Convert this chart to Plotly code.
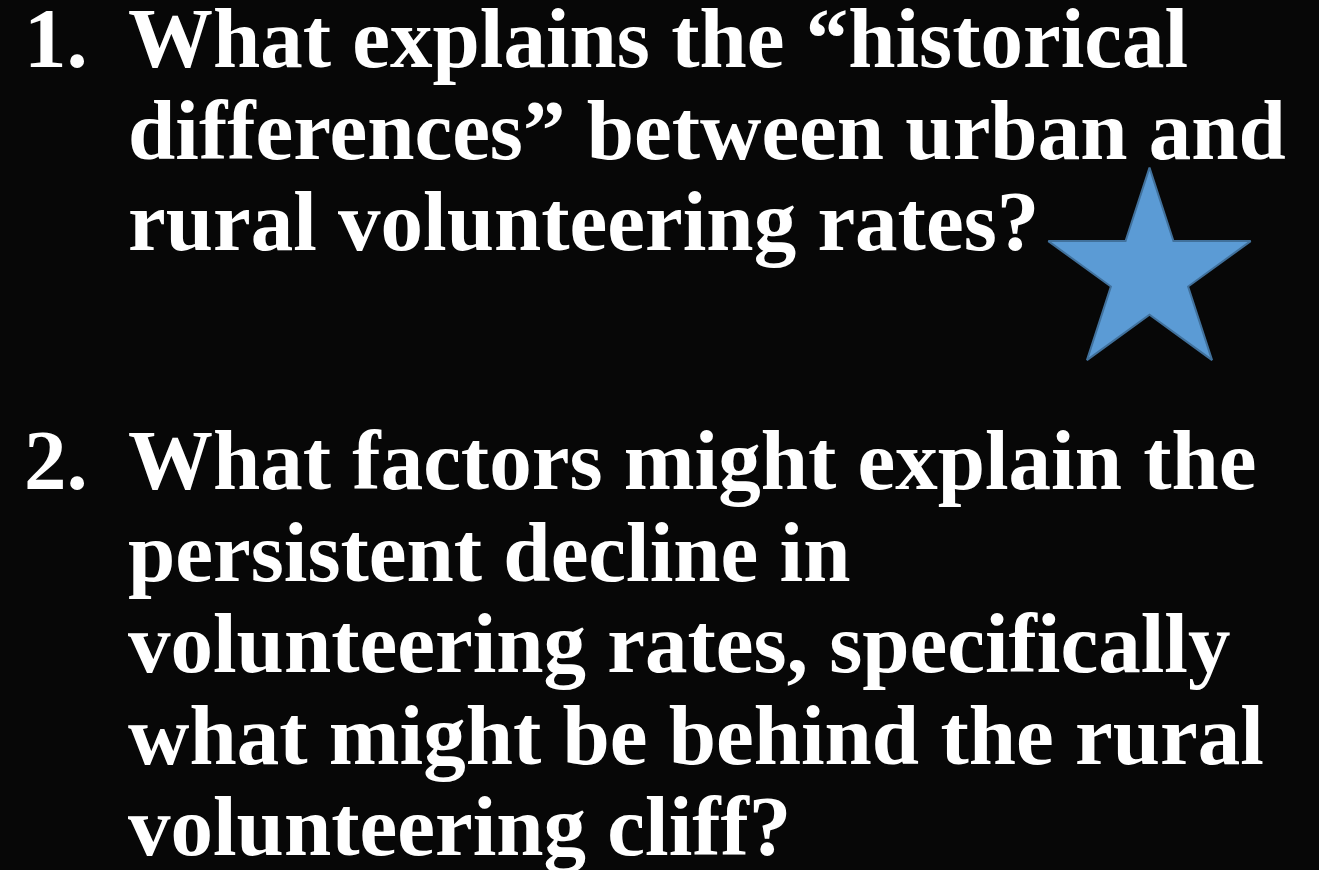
import plotly.graph_objects as go

# ---- content ----
numbers = ["1.", "2."]
question_1 = [
    "What explains the \u201chistorical",
    "differences\u201d between urban and",
    "rural volunteering rates?",
]
question_2 = [
    "What factors might explain the",
    "persistent decline in",
    "volunteering rates, specifically",
    "what might be behind the rural",
    "volunteering cliff?",
]
questions = [question_1, question_2]

# star marker (highlighting question 1)
star_x = [1149.5]
star_y = [274]

# ---- layout constants ----
W, H = 1319, 870
BG = "#070707"
FONT = "Liberation Serif, Times New Roman, serif"
FS = 85
LINE_H = 91.5
para_first_baseline = [68, 490]
num_x = 22
text_x = 126
baseline_to_mid = 30

fig = go.Figure()

fig.add_trace(go.Scatter(
    x=star_x, y=star_y, mode="markers",
    marker=dict(symbol="star", size=152, color="#5B9BD5",
                line=dict(color="#41719C", width=2)),
    hoverinfo="skip", showlegend=False,
))

annotations = []
for num, lines, b0 in zip(numbers, questions, para_first_baseline):
    annotations.append(dict(
        x=num_x, y=b0 - baseline_to_mid, xref="x", yref="y",
        text=num, showarrow=False, xanchor="left", yanchor="middle",
        font=dict(family=FONT, size=FS, color="white", weight="bold"),
    ))
    for i, line in enumerate(lines):
        annotations.append(dict(
            x=text_x, y=b0 + i * LINE_H - baseline_to_mid, xref="x", yref="y",
            text=line, showarrow=False, xanchor="left", yanchor="middle",
            font=dict(family=FONT, size=FS, color="white", weight="bold"),
        ))

fig.update_layout(
    width=W, height=H,
    margin=dict(l=0, r=0, t=0, b=0),
    paper_bgcolor=BG, plot_bgcolor=BG,
    xaxis=dict(range=[0, W], visible=False, fixedrange=True),
    yaxis=dict(range=[H, 0], visible=False, fixedrange=True),
    annotations=annotations,
    showlegend=False,
)

fig.write_html("out.html", config={"displayModeBar": False})

# remove the browser's default page margin so the slide fills the window
with open("out.html", "r", encoding="utf-8") as f:
    html = f.read()
html = html.replace("<body>", '<body style="margin:0;padding:0;background:%s;overflow:hidden">' % BG, 1)
with open("out.html", "w", encoding="utf-8") as f:
    f.write(html)
